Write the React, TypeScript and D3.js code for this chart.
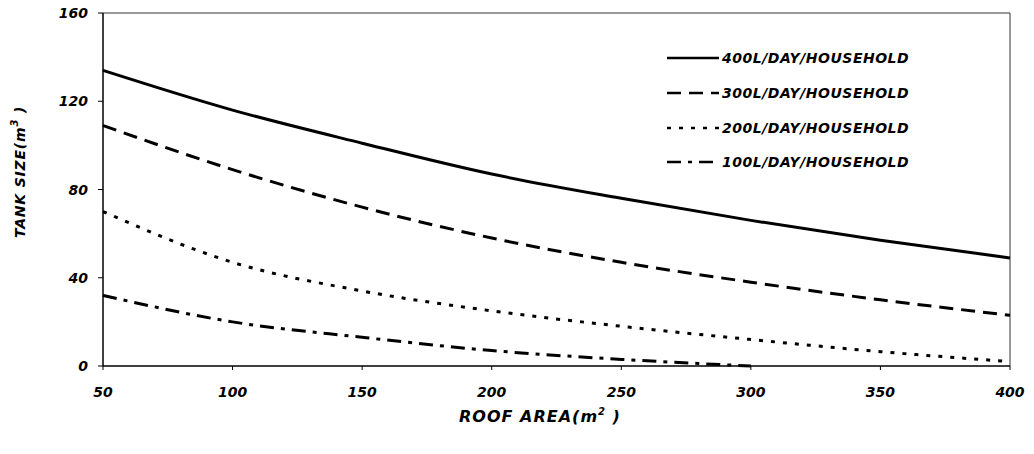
import React from "react";
import * as d3 from "d3";

const roofArea = [50, 100, 150, 200, 250, 300, 350, 400];
const s400 = [134, 116, 101, 87, 76, 66, 57, 49];
const s300 = [109, 89, 72, 58, 47, 38, 30, 23];
const s200 = [70, 47, 34, 25, 18, 12, 6.5, 2];
const s100 = [32, 20, 13, 7, 3, 0];
const seriesNames = ["400L/DAY/HOUSEHOLD", "300L/DAY/HOUSEHOLD", "200L/DAY/HOUSEHOLD", "100L/DAY/HOUSEHOLD"];
const xTicks = [50, 100, 150, 200, 250, 300, 350, 400];
const yTicks = [0, 40, 80, 120, 160];

const W = 1034, H = 454;
const left = 103, right = 1010, top = 13, bottom = 366;
const FONT = "'DejaVu Sans', Verdana, sans-serif";

export default function App() {
  const x = d3.scaleLinear().domain([50, 400]).range([left, right]);
  const y = d3.scaleLinear().domain([0, 160]).range([bottom, top]);
  const line = d3
    .line<[number, number]>()
    .x((d) => x(d[0]))
    .y((d) => y(d[1]))
    .curve(d3.curveMonotoneX);
  const all = [s400, s300, s200, s100];
  const dashes = ["none", "14,8", "4,8", "14,7,4,7"];
  const legendY = [58, 93, 128, 162];

  return (
    <svg width={W} height={H} style={{ position: "absolute", left: 0, top: 0, background: "#fff" }}>
      <line x1={left} x2={right} y1={top} y2={top} stroke="#333" strokeWidth={1} />
      <line x1={right} x2={right} y1={top} y2={bottom} stroke="#333" strokeWidth={1} />
      <line x1={left} x2={left} y1={top} y2={bottom} stroke="#000" strokeWidth={1.5} />
      <line x1={left} x2={right} y1={bottom} y2={bottom} stroke="#000" strokeWidth={1.5} />
      {yTicks.map((t) => (
        <g key={"y" + t}>
          <line x1={left - 5} x2={left} y1={y(t)} y2={y(t)} stroke="#000" strokeWidth={1} />
          <text x={88} y={y(t) + 5} textAnchor="end" fontFamily={FONT} fontWeight="bold" fontStyle="italic" fontSize={14}>
            {t}
          </text>
        </g>
      ))}
      {xTicks.map((t) => (
        <g key={"x" + t}>
          <line x1={x(t)} x2={x(t)} y1={bottom} y2={bottom + 4} stroke="#000" strokeWidth={1} />
          <text x={x(t)} y={397} textAnchor="middle" fontFamily={FONT} fontWeight="bold" fontStyle="italic" fontSize={14}>
            {t}
          </text>
        </g>
      ))}
      {all.map((s, i) => (
        <path
          key={"s" + i}
          d={line(s.map((v, j) => [roofArea[j], v] as [number, number])) || ""}
          fill="none"
          stroke="#000"
          strokeWidth={3}
          strokeDasharray={dashes[i]}
        />
      ))}
      {seriesNames.map((n, i) => (
        <g key={"l" + i}>
          <line x1={667} x2={719} y1={legendY[i]} y2={legendY[i]} stroke="#000" strokeWidth={2.5} strokeDasharray={dashes[i]} />
          <text x={722} y={legendY[i] + 5} fontFamily={FONT} fontWeight="bold" fontStyle="italic" fontSize={14} letterSpacing={0.5}>
            {n}
          </text>
        </g>
      ))}
      <text x={540} y={422} textAnchor="middle" fontFamily={FONT} fontWeight="bold" fontStyle="italic" fontSize={16} letterSpacing={1}>
        ROOF AREA(m<tspan dy={-7} fontSize={10}>2</tspan><tspan dy={7}> )</tspan>
      </text>
      <text
        transform={`translate(25,172) rotate(-90)`}
        textAnchor="middle"
        fontFamily={FONT}
        fontWeight="bold"
        fontStyle="italic"
        fontSize={14}
        letterSpacing={0.8}
      >
        TANK SIZE(m<tspan dy={-7} fontSize={10}>3</tspan><tspan dy={7}> )</tspan>
      </text>
    </svg>
  );
}
